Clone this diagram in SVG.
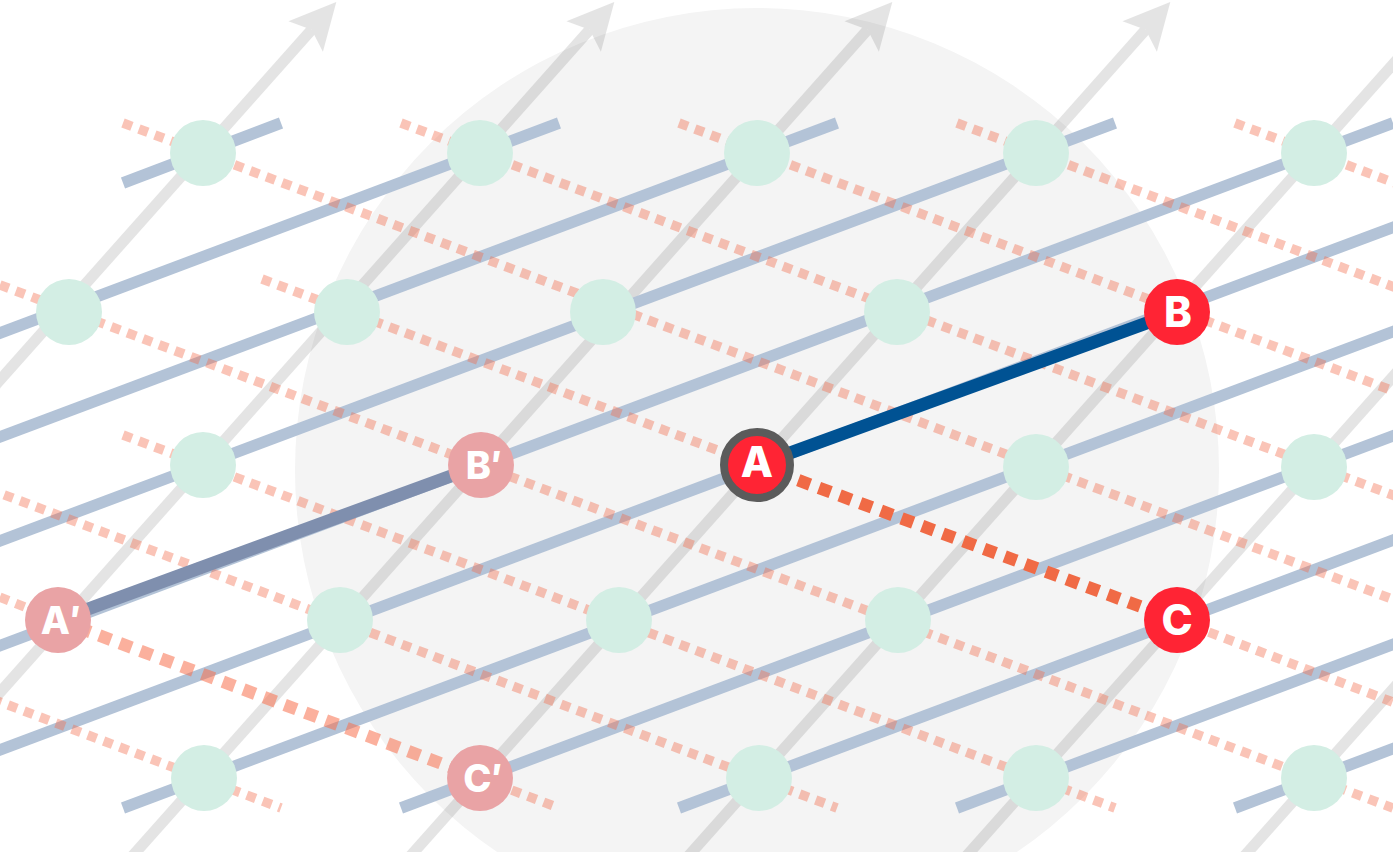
<svg xmlns="http://www.w3.org/2000/svg" width="1393" height="852" viewBox="0 0 1393 852">
<style>
.gl{stroke:#000;stroke-width:11;fill:none}
.bl{stroke:#b3c3d7;stroke-width:11.5;fill:none}
.pk{stroke:#f26b4a;stroke-opacity:.4;stroke-width:9.5;stroke-dasharray:9.5 7.5;fill:none}
.mint{fill:#d3eee4}
.red{fill:#ff2434}
.prime{fill:#e9a3a5}
.lbl{fill:#fff;font-family:Inter,"Open Sans","Noto Sans",sans-serif;font-weight:800;text-anchor:middle}
</style>
<defs>
<marker id="arrow" markerUnits="userSpaceOnUse" orient="auto" refX="9" refY="23" markerWidth="46" markerHeight="46" overflow="visible">
<path d="M0,0 L46,23 L0,46 L9,23 Z" fill="#000"/>
</marker>
</defs>
<rect x="0" y="0" width="1393" height="852" fill="#fff"/>
<circle id="zone" cx="757" cy="470" r="462" fill="#f4f4f4"/>
<g id="connectors">
<g id="gray-lines" opacity="0.1">
<line class="gl" x1="-493" y1="934" x2="311.7" y2="29.7" marker-end="url(#arrow)"/>
<line class="gl" x1="-215" y1="934" x2="589.7" y2="29.7" marker-end="url(#arrow)"/>
<line class="gl" x1="63" y1="934" x2="867.7" y2="29.7" marker-end="url(#arrow)"/>
<line class="gl" x1="341" y1="934" x2="1145.7" y2="29.7" marker-end="url(#arrow)"/>
<line class="gl" x1="619" y1="934" x2="1423.7" y2="29.7" marker-end="url(#arrow)"/>
<line class="gl" x1="897" y1="934" x2="1701.7" y2="29.7"/>
<line class="gl" x1="1175" y1="934" x2="1979.7" y2="29.7"/>
</g>
<g id="blue-lines">
<line class="bl" x1="123" y1="183" x2="281" y2="123"/>
<line class="bl" x1="-16" y1="339" x2="559" y2="123"/>
<line class="bl" x1="-155" y1="495" x2="837" y2="123"/>
<line class="bl" x1="-294" y1="651" x2="1115" y2="123"/>
<line class="bl" x1="-433" y1="808" x2="1393" y2="123"/>
<line class="bl" x1="-155" y1="808" x2="1671" y2="123"/>
<line class="bl" x1="123" y1="808" x2="1949" y2="123"/>
<line class="bl" x1="401" y1="808" x2="2227" y2="123"/>
<line class="bl" x1="679" y1="808" x2="2505" y2="123"/>
<line class="bl" x1="957" y1="808" x2="2783" y2="123"/>
<line class="bl" x1="1235" y1="808" x2="3061" y2="123"/>
</g>
<g id="pink-lines">
<line class="pk" x1="-155" y1="748" x2="3" y2="808"/>
<line class="pk" x1="-294" y1="591" x2="281" y2="808"/>
<line class="pk" x1="-16" y1="591" x2="58" y2="620"/>
<line class="pk" x1="480" y1="778" x2="559" y2="808"/>
<line class="pk" x1="-155" y1="435" x2="837" y2="808"/>
<line class="pk" x1="123" y1="435" x2="1115" y2="808"/>
<line class="pk" x1="-16" y1="279" x2="1393" y2="808"/>
<line class="pk" x1="262" y1="279" x2="757" y2="465"/>
<line class="pk" x1="1177" y1="620" x2="1671" y2="808"/>
<line class="pk" x1="123" y1="123" x2="1949" y2="808"/>
<line class="pk" x1="401" y1="123" x2="2227" y2="808"/>
<line class="pk" x1="679" y1="123" x2="2505" y2="808"/>
<line class="pk" x1="957" y1="123" x2="2783" y2="808"/>
<line class="pk" x1="1235" y1="123" x2="3061" y2="808"/>
</g>
<g id="highlight-lines">
<line id="edge-Ap-Bp" x1="58" y1="620" x2="481" y2="465" stroke="#7f8fae" stroke-width="13"/>
<line id="edge-Ap-Cp" x1="58" y1="620" x2="480" y2="778" stroke="#f7704c" stroke-opacity="0.55" stroke-width="12.5" stroke-dasharray="12.5 9.5"/>
<line id="edge-A-B" x1="757" y1="465" x2="1177" y2="312" stroke="#005293" stroke-width="13"/>
<line id="edge-A-C" x1="757" y1="465" x2="1177" y2="620" stroke="#f06a45" stroke-width="12.5" stroke-dasharray="12.5 9.5"/>
</g>
</g>
<g id="n0-1"><circle class="mint" cx="203" cy="153" r="33"/></g>
<g id="n0-3"><circle class="mint" cx="480" cy="153" r="33"/></g>
<g id="n0-5"><circle class="mint" cx="757" cy="153" r="33"/></g>
<g id="n0-7"><circle class="mint" cx="1036" cy="153" r="33"/></g>
<g id="n0-9"><circle class="mint" cx="1314" cy="153" r="33"/></g>
<g id="n1-0"><circle class="mint" cx="69" cy="312" r="33"/></g>
<g id="n1-2"><circle class="mint" cx="347" cy="312" r="33"/></g>
<g id="n1-4"><circle class="mint" cx="603" cy="312" r="33"/></g>
<g id="n1-6"><circle class="mint" cx="897" cy="312" r="33"/></g>
<g id="n2-1"><circle class="mint" cx="203" cy="465" r="33"/></g>
<g id="n2-7"><circle class="mint" cx="1036" cy="467" r="33"/></g>
<g id="n2-9"><circle class="mint" cx="1314" cy="467" r="33"/></g>
<g id="n3-2"><circle class="mint" cx="340" cy="620" r="33"/></g>
<g id="n3-4"><circle class="mint" cx="619" cy="620" r="33"/></g>
<g id="n3-6"><circle class="mint" cx="898" cy="620" r="33"/></g>
<g id="n4-1"><circle class="mint" cx="204" cy="778" r="33"/></g>
<g id="n4-5"><circle class="mint" cx="759" cy="778" r="33"/></g>
<g id="n4-7"><circle class="mint" cx="1036" cy="778" r="33"/></g>
<g id="n4-9"><circle class="mint" cx="1314" cy="778" r="33"/></g>
<g id="node-Ap"><circle class="prime" cx="58" cy="620" r="33"/><text class="lbl" x="61" y="634" font-size="38">A′</text></g>
<g id="node-Bp"><circle class="prime" cx="481" cy="465" r="33"/><text class="lbl" x="484" y="479" font-size="38">B′</text></g>
<g id="node-Cp"><circle class="prime" cx="480" cy="778" r="33"/><text class="lbl" x="483" y="792" font-size="38">C′</text></g>
<g id="node-A"><circle class="red" cx="757" cy="465" r="33" stroke="#5b5b5b" stroke-width="8"/><text class="lbl" x="757" y="477" font-size="42">A</text></g>
<g id="node-B"><circle class="red" cx="1177" cy="312" r="33"/><text class="lbl" x="1178" y="327" font-size="42">B</text></g>
<g id="node-C"><circle class="red" cx="1177" cy="620" r="33"/><text class="lbl" x="1177" y="635" font-size="42">C</text></g>
</svg>
